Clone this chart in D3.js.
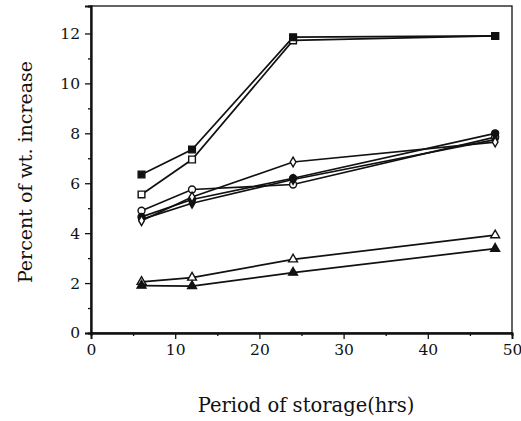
<!DOCTYPE html>
<html>
<head>
<meta charset="utf-8">
<script src="https://cdn.jsdelivr.net/npm/d3@7"></script>
<style>
body { margin:0; background:#fff; }
text { font-family: "DejaVu Serif", "Liberation Serif", serif; fill:#111; }
</style>
</head>
<body>
<svg id="chart" width="521" height="421"></svg>
<script>
// storage hours
var hours = [6, 12, 24, 48]

// percent of weight increase, one array per curve
var sq_filled = [6.35, 7.35, 11.85, 11.9]
var sq_open = [5.55, 6.95, 11.72, 11.9]
var circ_open = [4.9, 5.75, 5.95, 7.85]
var circ_filled = [4.65, 5.35, 6.2, 8.0]
var dia_open = [4.5, 5.45, 6.85, 7.65]
var dia_filled = [4.55, 5.2, 6.15, 7.75]
var tri_open = [2.05, 2.22, 2.95, 3.92]
var tri_filled = [1.9, 1.88, 2.42, 3.38]

var x_ticks = [0, 10, 20, 30, 40, 50]
var y_ticks = [0, 2, 4, 6, 8, 10, 12]

var series = [
    {vals: sq_open, shape: "square", fill: false},
    {vals: sq_filled, shape: "square", fill: true},
    {vals: circ_open, shape: "circle", fill: false},
    {vals: circ_filled, shape: "circle", fill: true},
    {vals: dia_filled, shape: "diamond", fill: true},
    {vals: dia_open, shape: "diamond", fill: false},
    {vals: tri_open, shape: "triangle", fill: false},
    {vals: tri_filled, shape: "triangle", fill: true}
]

var svg = d3.select("#chart")
var plot_left = 91, plot_right = 512, plot_top = 6, plot_bottom = 333

var x = d3.scaleLinear().domain([0, 50]).range([plot_left, plot_right])
var y = d3.scaleLinear().domain([0, 13.1]).range([plot_bottom, plot_top])

// frame
svg.append("rect")
    .attr("x", plot_left).attr("y", plot_top)
    .attr("width", plot_right - plot_left).attr("height", plot_bottom - plot_top)
    .attr("fill", "none").attr("stroke", "#111").attr("stroke-width", 1.3)

// axes, major ticks
svg.append("g").attr("transform", "translate(0," + plot_bottom + ")")
    .call(d3.axisBottom(x).tickValues(x_ticks).tickSize(6).tickPadding(5))
svg.append("g").attr("transform", "translate(" + plot_left + ",0)")
    .call(d3.axisLeft(y).tickValues(y_ticks).tickSize(6).tickPadding(5))

// minor ticks
svg.append("g").attr("transform", "translate(0," + plot_bottom + ")")
    .call(d3.axisBottom(x).tickValues([5, 15, 25, 35, 45]).tickSize(3).tickFormat(""))
svg.append("g").attr("transform", "translate(" + plot_left + ",0)")
    .call(d3.axisLeft(y).tickValues([1, 3, 5, 7, 9, 11]).tickSize(3).tickFormat(""))

svg.selectAll(".domain").attr("stroke", "#111").attr("stroke-width", 1.8)
svg.selectAll(".tick line").attr("stroke", "#111").attr("stroke-width", 1.3)
svg.selectAll(".tick text")
    .attr("font-size", 15.5)
    .attr("font-family", "DejaVu Serif, Liberation Serif, serif")
    .attr("fill", "#111")

// axis titles
svg.append("text")
    .attr("x", 306).attr("y", 412)
    .attr("text-anchor", "middle").attr("font-size", 19.5)
    .text("Period of storage(hrs)")

svg.append("text")
    .attr("transform", "translate(32," + 172 + ") rotate(-90)")
    .attr("text-anchor", "middle").attr("font-size", 19)
    .text("Percent of wt. increase")

// lines
var line = d3.line()
    .x(function(d, i) { return x(hours[i]) })
    .y(function(d) { return y(d) })

svg.append("g").selectAll("path")
    .data(series)
    .enter().append("path")
    .attr("d", function(s) { return line(s.vals) })
    .attr("fill", "none")
    .attr("stroke", "#111")
    .attr("stroke-width", 1.7)

// markers
var symbol_types = {
    square: [d3.symbolSquare, 45],
    circle: [d3.symbolCircle, 38],
    diamond: [d3.symbolDiamond, 28],
    triangle: [d3.symbolTriangle, 34]
}

series.forEach(function(s) {
    var sym = d3.symbol().type(symbol_types[s.shape][0]).size(symbol_types[s.shape][1])
    svg.append("g").selectAll("path")
        .data(s.vals)
        .enter().append("path")
        .attr("transform", function(d, i) { return "translate(" + x(hours[i]) + "," + y(d) + ")" })
        .attr("d", sym)
        .attr("fill", s.fill ? "#111" : "#fff")
        .attr("stroke", "#111")
        .attr("stroke-width", 1.4)
})
</script>
</body>
</html>
